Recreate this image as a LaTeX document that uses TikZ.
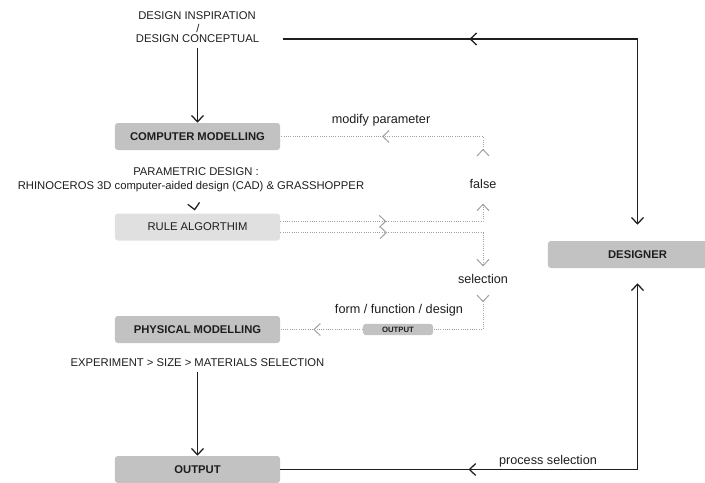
\documentclass[tikz,border=0pt]{standalone}
\usepackage{fontspec}
\setmainfont{Liberation Sans}
\usepackage{xcolor}
\usepackage{tikz}
\usetikzlibrary{arrows.meta}
\usetikzlibrary{decorations.markings}
\definecolor{ink}{HTML}{1E1E1E}
\definecolor{boxgray}{HTML}{C2C2C2}
\definecolor{rulegray}{HTML}{E0E0E0}
\definecolor{dotgray}{HTML}{A0A0A0}
\tikzset{opentip/.tip={Straight Barb[length=4.5pt,width=8.5pt]}}
\tikzstyle{box}=[rectangle,rounded corners=2pt,fill=boxgray,minimum width=4.125cm,minimum height=0.675cm,inner sep=0pt,text=ink,font=\fontsize{8}{9}\selectfont\bfseries]
\tikzstyle{lightbox}=[box,fill=rulegray,font=\fontsize{8}{9}\selectfont]
\tikzstyle{smallbox}=[box,minimum width=1.75cm,minimum height=0.28cm,font=\fontsize{5.5}{6}\selectfont\bfseries]
\tikzstyle{caption}=[text=ink,font=\fontsize{8}{9}\selectfont]
\tikzstyle{remark}=[text=ink,font=\fontsize{9}{10}\selectfont]
\tikzstyle{edge} = [draw,ink,line width=0.9pt,-opentip]
\tikzstyle{dotedge} = [draw,dotgray,line width=0.7pt,dash pattern=on 0.7pt off 0.9pt]
\tikzset{midtip/.style={postaction={decorate},decoration={markings,mark=at position #1 with {\arrow{opentip}}}}}
\tikzset{backtip/.style={postaction={decorate},decoration={markings,mark=at position #1 with {\arrowreversed{opentip}}}}}

\begin{document}
\begin{tikzpicture}[x=0.025cm,y=-0.025cm]

 \useasboundingbox (0,0) rectangle (705,482);

 %boxes
   \foreach \x/\y/\name/\label in {197.5/136.5/comp/COMPUTER MODELLING, 197.5/329.5/phys/PHYSICAL MODELLING, 197.5/469.5/outp/OUTPUT}
          \node[box] (\name) at (\x,\y) {\label};

 \node[box,minimum width=4.475cm] (des) at (637.5,254.5) {DESIGNER};
 \node[lightbox] (rule) at (197.5,227) {RULE ALGORTHIM};
 \node[smallbox] (obox) at (398,329.5) {OUTPUT};

 %texts
   \foreach \x/\y/\name/\label in {197/16/insp/DESIGN INSPIRATION, 197.5/39/concept/DESIGN CONCEPTUAL, 196/172/param/PARAMETRIC DESIGN :, 191/187/cad/RHINOCEROS 3D computer-aided design (CAD) \& GRASSHOPPER, 197.5/363/exper/EXPERIMENT > SIZE > MATERIALS SELECTION}
          \node[caption] (\name) at (\x,\y) {\label};

 \node[caption] (slash) at (198,28) {/};

   \foreach \x/\y/\name/\label in {381/120/modify/modify parameter, 483/184/false/false, 483/279/sel/selection, 548/461/proc/process selection}
          \node[remark] (\name) at (\x,\y) {\label};

 \node[remark] (form) at (399,310) {form / function / design};

 %solid
  \foreach \source/ \dest in {concept/comp, exper/outp}
         \path[edge] (\source) -- (\dest);

 \path[edge,shorten <=0.47cm,shorten >=0.4cm,backtip=0.357] (concept.east) -| (des.north);
 \path[edge,shorten >=0.375cm,backtip=0.337] (outp.east) -| (des.south);
 \path[ink,line width=0.9pt,midtip=0.83] (cad) -- (rule);

 %dotted
 \path[dotedge,{opentip[reversed]}-,shorten <=0.45cm,midtip=0.577] (false.north) |- (comp.east);
 \path[dotedge,-opentip,shorten >=0.25cm,midtip=0.46] ([yshift=1.4mm]rule.east) -| (false.south);
 \path[dotedge,-opentip,shorten >=0.075cm,midtip=0.446] ([yshift=-1.4mm]rule.east) -| (sel.north);
 \path[dotedge,{opentip[reversed]}-,shorten <=0.15cm] (sel.south) |- (obox.east);
 \path[dotedge,midtip=0.6] (obox.west) -- (phys.east);

\end{tikzpicture}
\end{document}
